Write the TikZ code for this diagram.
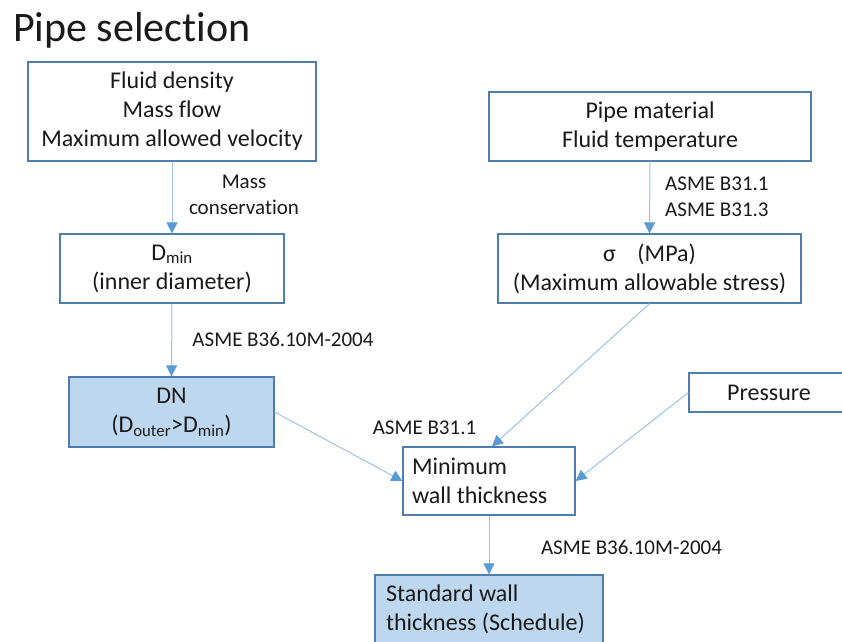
\documentclass[tikz,border=0pt]{standalone}
\usepackage{fontspec}
\setmainfont{Carlito}[Ligatures=NoCommon]
\usetikzlibrary{arrows.meta}
\definecolor{boxline}{HTML}{4F7DB0}
\definecolor{arrowline}{HTML}{9DC3E6}
\definecolor{arrowhead}{HTML}{5B9BD5}
\definecolor{dnfill}{HTML}{BDD7EE}
\definecolor{txt}{HTML}{1A1A1A}
\begin{document}
\begin{tikzpicture}[x=1pt,y=1pt,
  boxnode/.style={draw=boxline,line width=1.2pt,fill=white,inner sep=0pt,align=center,
    text=txt,font=\fontsize{24}{29}\selectfont},
  bluebox/.style={boxnode,fill=dnfill},
  lbl/.style={inner sep=0pt,text=txt,font=\fontsize{21}{26}\selectfont},
  conn/.style={draw=arrowline,line width=1pt,-{Triangle[width=11pt,length=11pt,color=arrowhead]}}]
\clip (0,0) rectangle (842,641);
\fill[white] (0,0) rectangle (842,641);

\node[anchor=base west,inner sep=0pt,text=txt,font=\fontsize{42}{50}\selectfont] (title) at (13,599) {Pipe selection};

\node[boxnode,minimum width=288pt,minimum height=99pt] (fluid) at (172,529.5)
  {Fluid density\\Mass flow\\Maximum allowed velocity};
\node[boxnode,minimum width=224pt,minimum height=69pt] (dmin) at (172,372.5)
  {D\textsubscript{min}\\(inner diameter)};
\node[bluebox,minimum width=205pt,minimum height=70pt] (dn) at (171.5,229)
  {DN\\(D\textsubscript{outer}>D\textsubscript{min})};
\node[boxnode,minimum width=322pt,minimum height=69pt] (pipe) at (650,514.5)
  {Pipe material\\Fluid temperature};
\node[boxnode,minimum width=303pt,minimum height=69pt] (sigma) at (649.5,372.5)
  {σ\hspace{0.9em}(MPa)\\(Maximum allowable stress)};
\node[boxnode,minimum width=160pt,minimum height=39pt] (press) at (769,248.5)
  {Pressure};
\node[boxnode,minimum height=68pt,inner xsep=9pt,text width=154pt,align=flush left] (wall) at (489,160)
  {Minimum\\wall thickness};
\node[bluebox,minimum height=69pt,inner xsep=11pt,text width=206pt,align=flush left] (std) at (489,31.5)
  {Standard wall\\thickness (Schedule)};

\node[lbl,align=center] (l1) at (244,446) {Mass\\conservation};
\node[lbl] (l2) at (283,302) {ASME B36.10M-2004};
\node[lbl,anchor=west,align=flush left] (l3) at (665,444) {ASME B31.1\\ASME B31.3};
\node[lbl] (l4) at (424.5,213) {ASME B31.1};
\node[lbl] (l5) at (631.5,94) {ASME B36.10M-2004};

\draw[conn] (fluid.south) -- (dmin.north);
\draw[conn] (dmin.south) -- (dn.north);
\draw[conn] (pipe.south) -- (sigma.north);
\draw[conn] (sigma.south) -- ([xshift=3pt]wall.north);
\draw[conn] (dn.east) -- (wall.west);
\draw[conn] (press.west) -- (wall.east);
\draw[conn] (wall.south) -- (std.north);
\end{tikzpicture}
\end{document}
